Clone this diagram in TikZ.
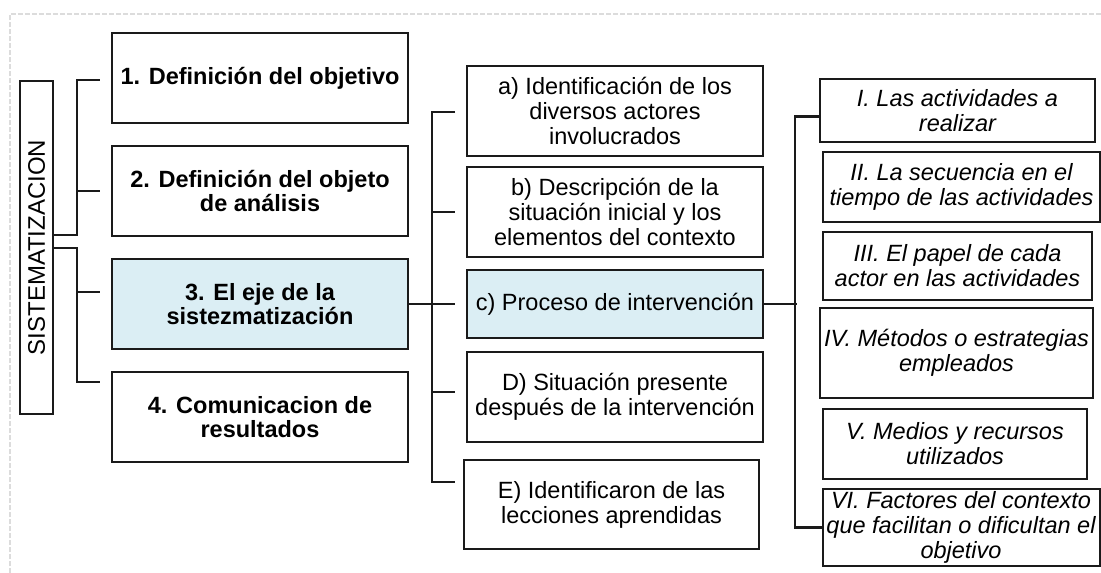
\documentclass[tikz,border=0pt]{standalone}
\usepackage{fontspec}
\setmainfont{Liberation Sans}
\usepackage{tikz}
\definecolor{boxline}{HTML}{1A1A1A}
\definecolor{axisfill}{HTML}{DBEEF4}
\definecolor{framegray}{HTML}{DCDCDC}
\tikzset{
	box/.style={draw=boxline,line width=2pt,rectangle,inner sep=0pt,align=center,font=\fontsize{23.5}{25}\selectfont},
	lvlone/.style={box,minimum width=296pt,minimum height=90pt,font=\bfseries\fontsize{23.5}{24.5}\selectfont},
	lvltwo/.style={box,minimum width=296pt},
	lvlthree/.style={box,font=\itshape\fontsize{23.5}{25}\selectfont},
	link/.style={draw=boxline,line width=1.8pt},
	thicklink/.style={draw=boxline,line width=2.8pt}
}

\begin{document}
\begin{tikzpicture}[x=1pt,y=-1pt]
	\useasboundingbox (0,0) rectangle (1101,573);
	\draw[framegray,line width=2pt,dash pattern=on 5pt off 2pt] (10,573) -- (10,14) -- (1101,14);
	
	\node[box,rotate=90,minimum width=333pt,minimum height=33pt,font=\fontsize{24}{25}\selectfont] (sis) at (36.5,247.5) {SISTEMATIZACION};
	
	\node[lvlone] (b1) at (260,78) {1. Definición del objetivo};
	\node[lvlone] (b2) at (260,191) {2. Definición del objeto\\de análisis};
	\node[lvlone,fill=axisfill] (b3) at (260,304) {3. El eje de la\\sistezmatización};
	\node[lvlone] (b4) at (260,417) {4. Comunicacion de\\resultados};
	
	\node[lvltwo,minimum height=90pt] (pa) at (615,111) {a) Identificación de los\\diversos actores\\involucrados};
	\node[lvltwo,minimum height=90pt] (pb) at (615,212) {b) Descripción de la\\situación inicial y los\\elementos del contexto};
	\node[lvltwo,minimum height=68pt,fill=axisfill] (pc) at (615,304) {c) Proceso de intervención};
	\node[lvltwo,minimum height=90pt] (pd) at (615,397) {D) Situación presente\\después de la intervención};
	\node[lvltwo,minimum width=295pt,minimum height=89pt] (pe) at (611.5,504.5) {E) Identificaron de las\\lecciones aprendidas};
	
	\node[lvlthree,minimum width=275pt,minimum height=63pt] (r1) at (957.5,110.5) {I. Las actividades a\\realizar};
	\node[lvlthree,minimum width=277pt,minimum height=70pt] (r2) at (961.5,187) {II. La secuencia en el\\tiempo de las actividades};
	\node[lvlthree,minimum width=269pt,minimum height=68pt] (r3) at (957.5,266) {III. El papel de cada\\actor en las actividades};
	\node[lvlthree,minimum width=273pt,minimum height=90pt] (r4) at (956.5,353) {IV. Métodos o estrategias\\empleados};
	\node[lvlthree,minimum width=264pt,minimum height=70pt] (r5) at (955,444) {V. Medios y recursos\\utilizados};
	\node[lvlthree,minimum width=277pt,minimum height=77pt] (r6) at (961,527.5) {VI. Factores del contexto\\que facilitan o dificultan el\\objetivo};
	
	\foreach \i/\y in {1/80,2/191,3/292,4/382}
		\coordinate (s\i) at (100,\y);
	\foreach \i/\y in {a/112,b/212,c/304,d/392,e/482}
		\coordinate (m\i) at (455,\y);
	
	\draw[link] ([yshift=12.5pt]sis.south) -| ([xshift=-23pt]s1) -- (s1);
	\draw[link] ([xshift=-23pt]s2) -- (s2);
	\draw[link] ([yshift=-0.5pt]sis.south) -| ([xshift=-23pt]s4) -- (s4);
	\draw[link] ([xshift=-23pt]s3) -- (s3);
	
	\draw[thicklink] (b3.east) -- ([xshift=-23pt]mc);
	\draw[link] (ma) -- ++(-23,0) |- (me);
	\foreach \i in {b,c,d}
		\draw[link] ([xshift=-23pt]m\i) -- (m\i);
	
	\draw[thicklink] (pc.east) -- ++(33,0);
	\draw[thicklink] ([yshift=-6pt]r1.west) -- ++(-24,0) |- (r6.west);
\end{tikzpicture}
\end{document}
